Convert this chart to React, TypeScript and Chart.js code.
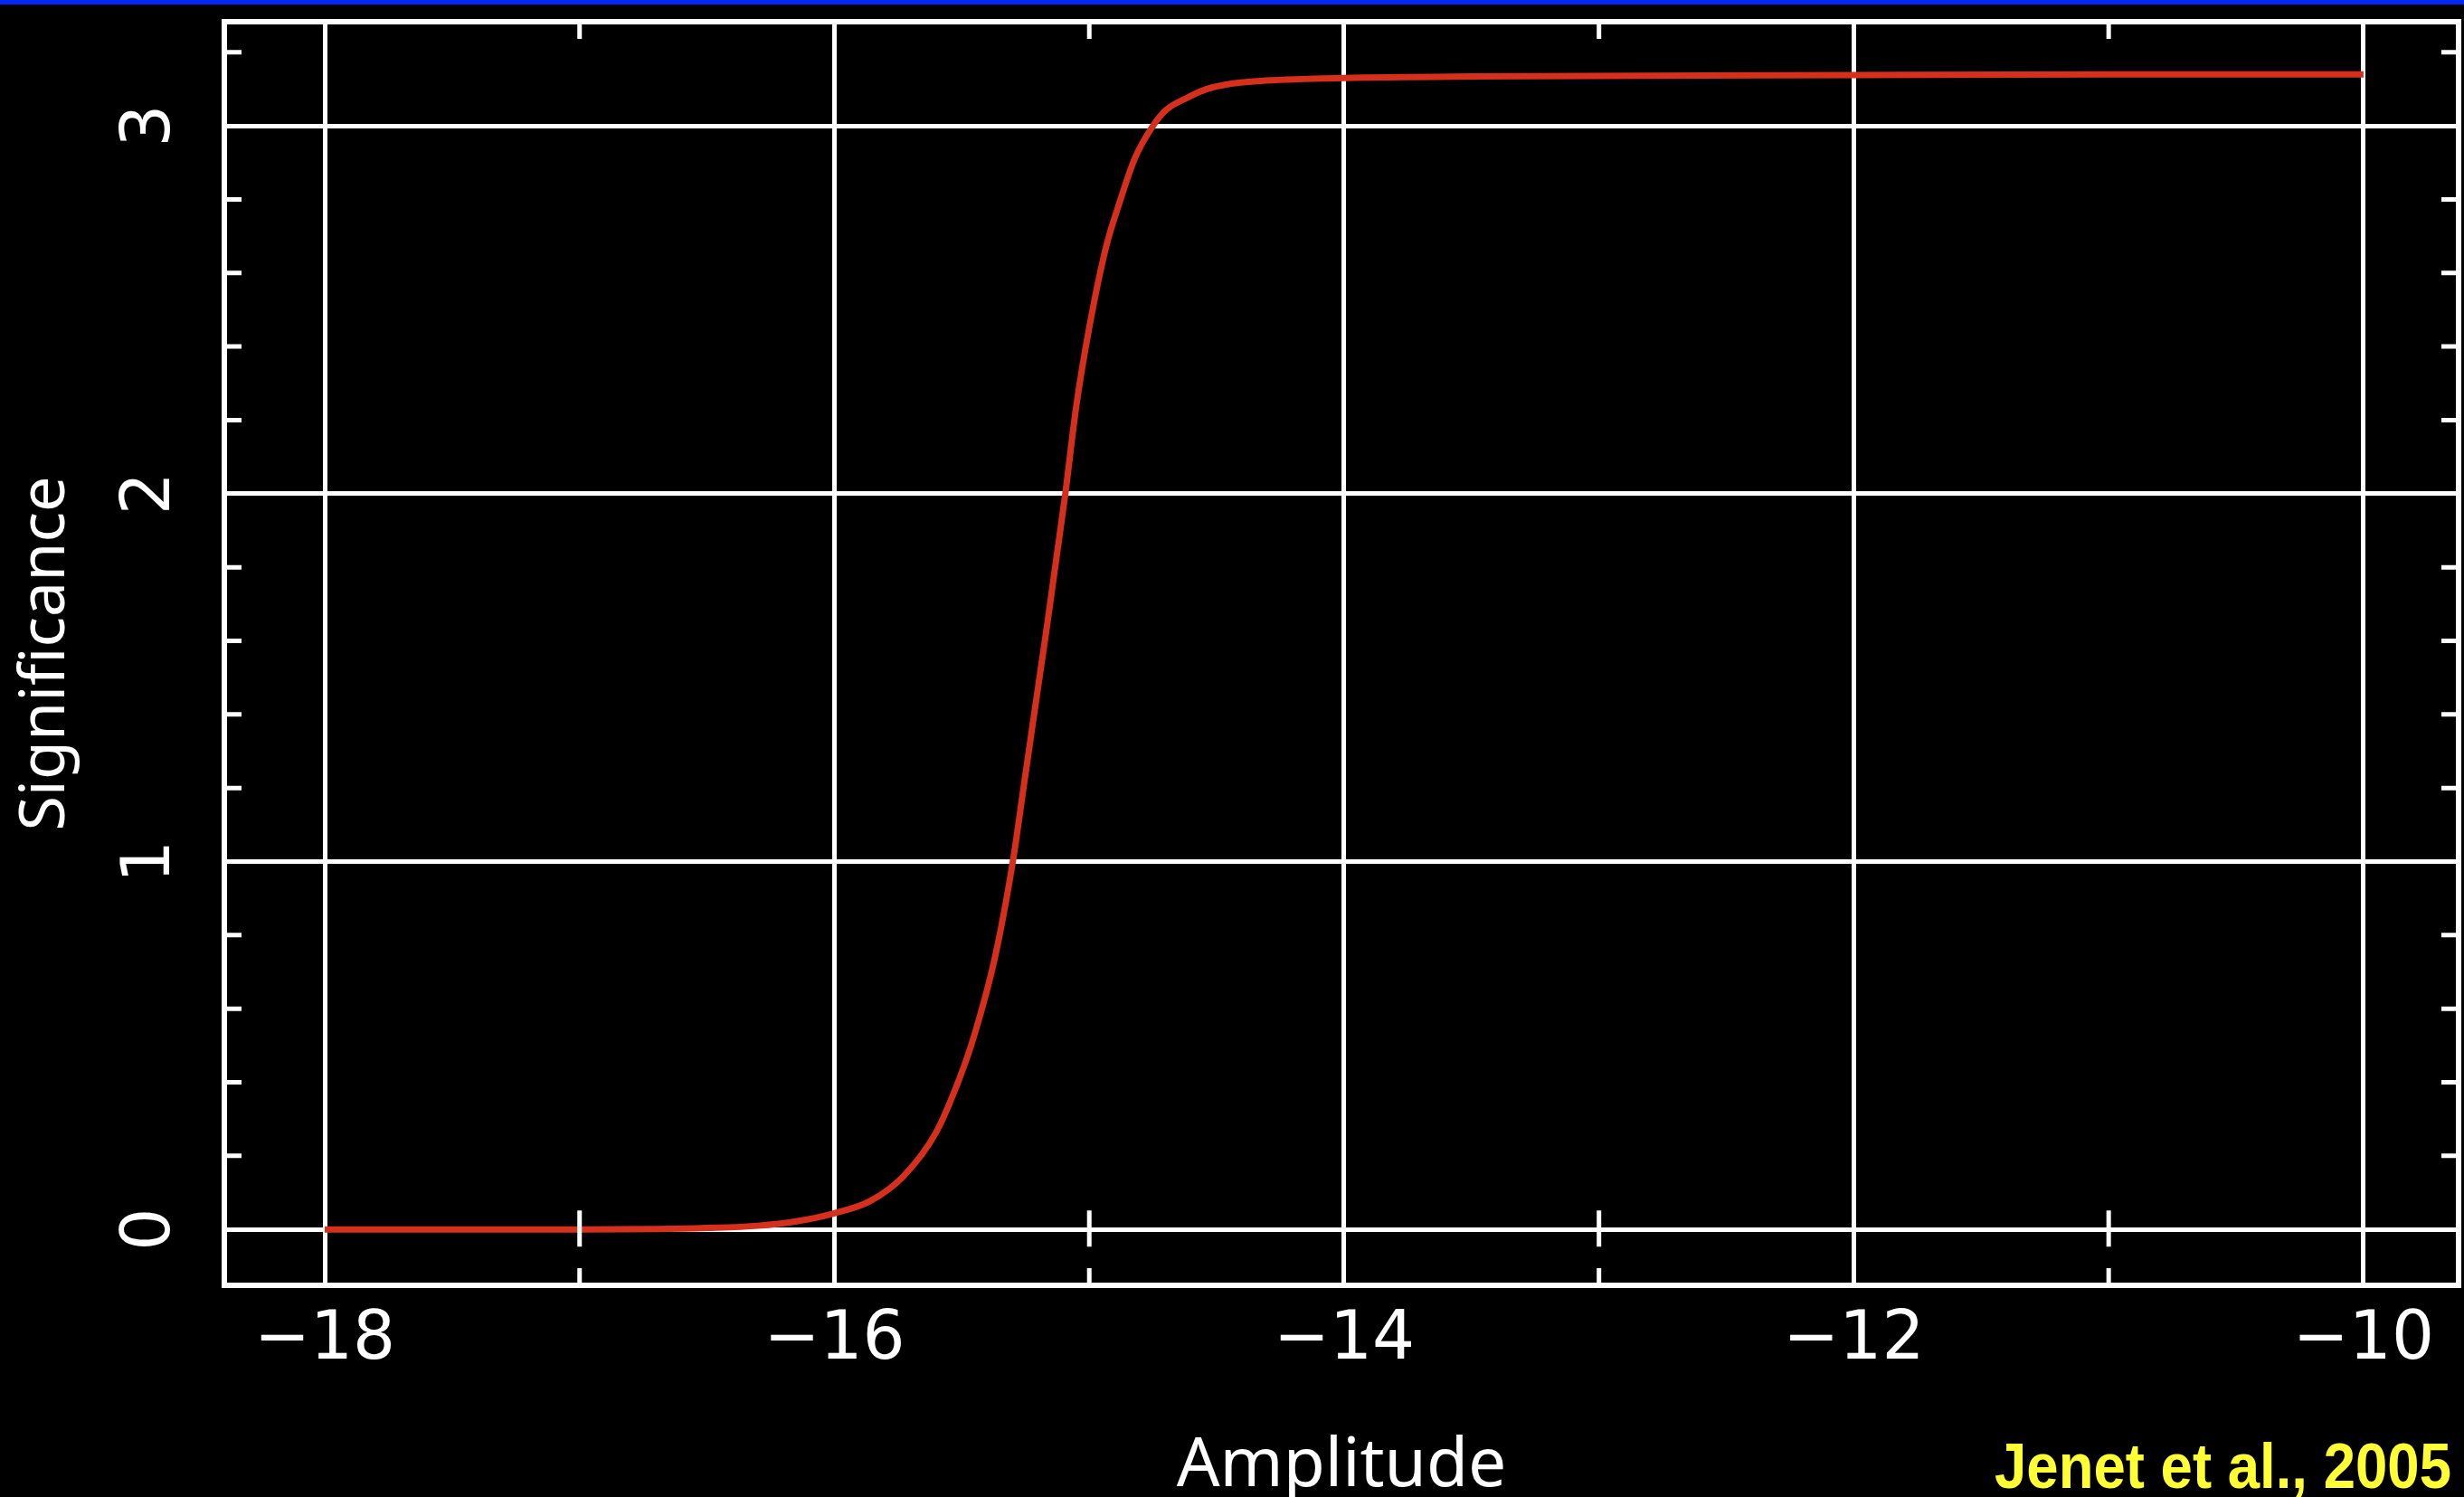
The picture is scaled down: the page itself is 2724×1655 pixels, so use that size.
import React, { useEffect, useRef } from 'react';
import { Chart, registerables } from 'chart.js';

Chart.register(...registerables);

// ---- data ----
const AMPLITUDE = [
  -18.0, -17.5, -17.0, -16.7, -16.5, -16.3, -16.15, -16.0, -15.86, -15.73,
  -15.6, -15.51, -15.455, -15.37, -15.3, -15.254, -15.206, -15.166, -15.13, -15.094,
  -15.052, -15.0, -14.934, -14.886, -14.821, -14.75, -14.697, -14.614, -14.543, -14.436,
  -14.306, -14.0, -13.5, -12.0, -11.0, -10.0,
];
const SIGNIFICANCE = [
  0, 0, 0, 0.001, 0.004, 0.01, 0.022, 0.044, 0.077, 0.144,
  0.265, 0.409, 0.519, 0.74, 1.0, 1.22, 1.45, 1.64, 1.82, 2.0,
  2.233, 2.452, 2.671, 2.781, 2.912, 3.0, 3.044, 3.077, 3.099, 3.115,
  3.123, 3.13, 3.134, 3.138, 3.14, 3.14,
];

const X_TICKS = [-18, -16, -14, -12, -10];
const X_TICK_LABELS = ['\u221218', '\u221216', '\u221214', '\u221212', '\u221210'];
const Y_TICKS = [0, 1, 2, 3];
const Y_TICK_LABELS = ['0', '1', '2', '3'];
const X_MINOR = [-17, -15, -13, -11];
const Y_MINOR = [0.2, 0.4, 0.6, 0.8, 1.2, 1.4, 1.6, 1.8, 2.2, 2.4, 2.6, 2.8, 3.2];
const X_RANGE = [-18.394, -9.627];
const Y_RANGE = [-0.152, 3.283];
const X_TITLE = 'Amplitude';
const Y_TITLE = 'Significance';
const CREDIT = 'Jenet et al., 2005';

const W = 2724;
const H = 1655;

const framePlugin = {
  id: 'pgplotFrame',
  beforeDraw(chart: any) {
    const { ctx } = chart;
    ctx.save();
    ctx.fillStyle = '#000000';
    ctx.fillRect(0, 0, chart.width, chart.height);
    ctx.fillStyle = 'rgb(0, 40, 245)';
    ctx.fillRect(0, 0, chart.width, 5);
    ctx.restore();
  },
  afterDatasetsDraw(chart: any) {
    const { ctx, chartArea, scales } = chart;
    const { left, right, top, bottom } = chartArea;
    const xs = scales.x;
    const ys = scales.y;
    ctx.save();
    ctx.strokeStyle = '#ffffff';
    ctx.lineWidth = 5;
    ctx.lineCap = 'butt';
    const L = 19;
    const y0 = ys.getPixelForValue(0);
    ctx.beginPath();
    X_MINOR.forEach((v) => {
      const px = xs.getPixelForValue(v);
      ctx.moveTo(px, bottom);
      ctx.lineTo(px, bottom - L);
      ctx.moveTo(px, top);
      ctx.lineTo(px, top + L);
      ctx.moveTo(px, y0 - 21);
      ctx.lineTo(px, y0 + 19);
    });
    Y_MINOR.forEach((v) => {
      const py = ys.getPixelForValue(v);
      ctx.moveTo(left, py);
      ctx.lineTo(left + L, py);
      ctx.moveTo(right, py);
      ctx.lineTo(right - L, py);
    });
    ctx.stroke();
    ctx.lineWidth = 6;
    ctx.strokeRect(left, top, right - left, bottom - top);

    // credit, condensed bold
    ctx.fillStyle = '#ffff33';
    ctx.font = 'bold 70px "Liberation Sans", Arial, sans-serif';
    ctx.textAlign = 'left';
    ctx.textBaseline = 'alphabetic';
    const targetW = 505;
    const w = ctx.measureText(CREDIT).width;
    const sx = targetW / w;
    ctx.translate(2710 - targetW, 1645);
    ctx.scale(sx, 1);
    ctx.fillText(CREDIT, 0, 0);
    ctx.restore();
  },
};

export default function App() {
  const ref = useRef<HTMLCanvasElement>(null);

  useEffect(() => {
    document.body.style.margin = '0';
    document.body.style.background = '#000';
    document.body.style.overflow = 'hidden';
    if (!ref.current) return;
    const points = AMPLITUDE.map((x, i) => ({ x, y: SIGNIFICANCE[i] }));
    const chart = new Chart(ref.current, {
      type: 'line',
      data: {
        datasets: [
          {
            data: points,
            borderColor: '#d6301d',
            borderWidth: 7,
            pointRadius: 0,
            fill: false,
            cubicInterpolationMode: 'monotone',
          },
        ],
      },
      options: {
        animation: false,
        responsive: false,
        devicePixelRatio: 1,
        layout: { padding: { top: 24, right: 6, left: 0, bottom: 0 } },
        plugins: { legend: { display: false }, tooltip: { enabled: false } },
        scales: {
          x: {
            type: 'linear',
            position: 'bottom',
            bounds: 'data',
            min: X_RANGE[0],
            max: X_RANGE[1],
            afterBuildTicks: (s: any) => {
              s.ticks = X_TICKS.map((v) => ({ value: v }));
            },
            afterFit: (s: any) => {
              s.height = 234;
              s.paddingLeft = 0;
              s.paddingRight = 0;
            },
            grid: { color: '#ffffff', lineWidth: 5, drawTicks: false },
            border: { display: false },
            ticks: {
              color: '#ffffff',
              font: { family: '"DejaVu Sans", sans-serif', size: 74, lineHeight: 1 },
              padding: 25,
              minRotation: 0,
              maxRotation: 0,
              autoSkip: false,
              callback: (_v: any, i: number) => X_TICK_LABELS[i],
            },
            title: {
              display: true,
              text: X_TITLE,
              color: '#ffffff',
              font: { family: '"Noto Sans", sans-serif', size: 75, lineHeight: 0.8 },
              padding: { top: 0, bottom: 3 },
            },
          },
          y: {
            type: 'linear',
            position: 'left',
            bounds: 'data',
            min: Y_RANGE[0],
            max: Y_RANGE[1],
            afterBuildTicks: (s: any) => {
              s.ticks = Y_TICKS.map((v) => ({ value: v }));
            },
            afterFit: (s: any) => {
              s.width = 248;
              s.paddingTop = 0;
              s.paddingBottom = 0;
            },
            grid: { color: '#ffffff', lineWidth: 5, drawTicks: false },
            border: { display: false },
            ticks: {
              color: '#ffffff',
              font: { family: '"DejaVu Sans", sans-serif', size: 74, lineHeight: 1 },
              padding: 57,
              minRotation: 90,
              maxRotation: 90,
              crossAlign: 'center',
              autoSkip: false,
              callback: (_v: any, i: number) => Y_TICK_LABELS[i],
            },
            title: {
              display: true,
              text: Y_TITLE,
              color: '#ffffff',
              font: { family: '"Noto Sans", sans-serif', size: 70, lineHeight: 1 },
              padding: { top: 16, bottom: 0 },
            },
          },
        },
      },
      plugins: [framePlugin],
    } as any);
    return () => chart.destroy();
  }, []);

  return (
    <div style={{ width: W, height: H, position: 'relative', background: '#000' }}>
      <canvas ref={ref} width={W} height={H} style={{ display: 'block', width: W, height: H }} />
    </div>
  );
}
